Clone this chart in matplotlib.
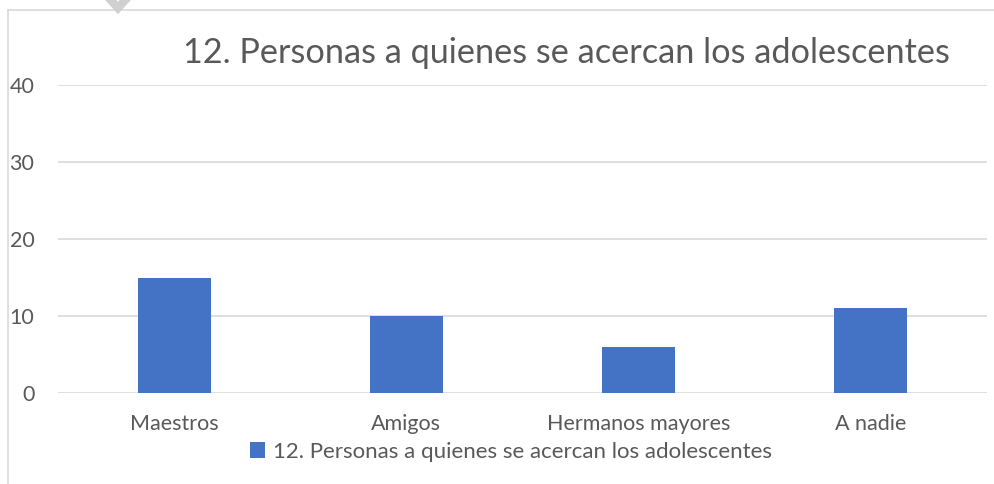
import matplotlib.pyplot as plt
from matplotlib.lines import Line2D

# data
categories = ["Maestros", "Amigos", "Hermanos mayores", "A nadie"]
values = [15, 10, 6, 11]
series_name = "12. Personas a quienes se acercan los adolescentes"
y_ticks = [0, 10, 20, 30, 40]

plt.rcParams['font.family'] = ['Lato', 'DejaVu Sans']

W, H = 995, 484
fig = plt.figure(figsize=(W / 100, H / 100), dpi=100)
ax = fig.add_axes([58 / W, 1 - 393 / H, (987 - 58) / W, (393 - 85) / H])

x = range(len(categories))
ax.bar(x, values, width=0.315, color="#4472c4", label=series_name, zorder=3)

ax.set_xlim(-0.5, len(categories) - 0.5)
ax.set_ylim(0, 40)
ax.set_yticks(y_ticks)
ax.set_xticks(list(x))
ax.set_xticklabels(categories)
ax.grid(axis='y', color="#d9d9d9", linewidth=1.2, zorder=0)
for s in ax.spines.values():
    s.set_visible(False)
ax.tick_params(axis='both', length=0, labelsize=15.5, colors="#595959")
ax.tick_params(axis='y', pad=17)
ax.tick_params(axis='x', pad=15)

# title
fig.text(566 / W, 1 - 53 / H, series_name, ha='center', va='center',
         fontsize=24.7, color="#595959")

# legend
leg = fig.legend(loc='center', bbox_to_anchor=(511 / W, 1 - 452 / H), frameon=False,
                 fontsize=16, handlelength=0.7, handleheight=0.7,
                 handletextpad=0.35, labelcolor="#595959")

# chart frame (partially visible) and watermark chevron
fig.add_artist(Line2D([8 / W, 8 / W], [0, 1 - 10 / H], color="#d9d9d9", lw=1.2))
fig.add_artist(Line2D([8 / W, 1], [1 - 10 / H, 1 - 10 / H], color="#d9d9d9", lw=1.2))
fig.add_artist(Line2D([102 / W, 118 / W, 134 / W], [1.02, 1 - 8 / H, 1.02],
                      color="#d0d0d0", lw=6, solid_joinstyle='miter'))

fig.savefig("out.png", dpi=100)
